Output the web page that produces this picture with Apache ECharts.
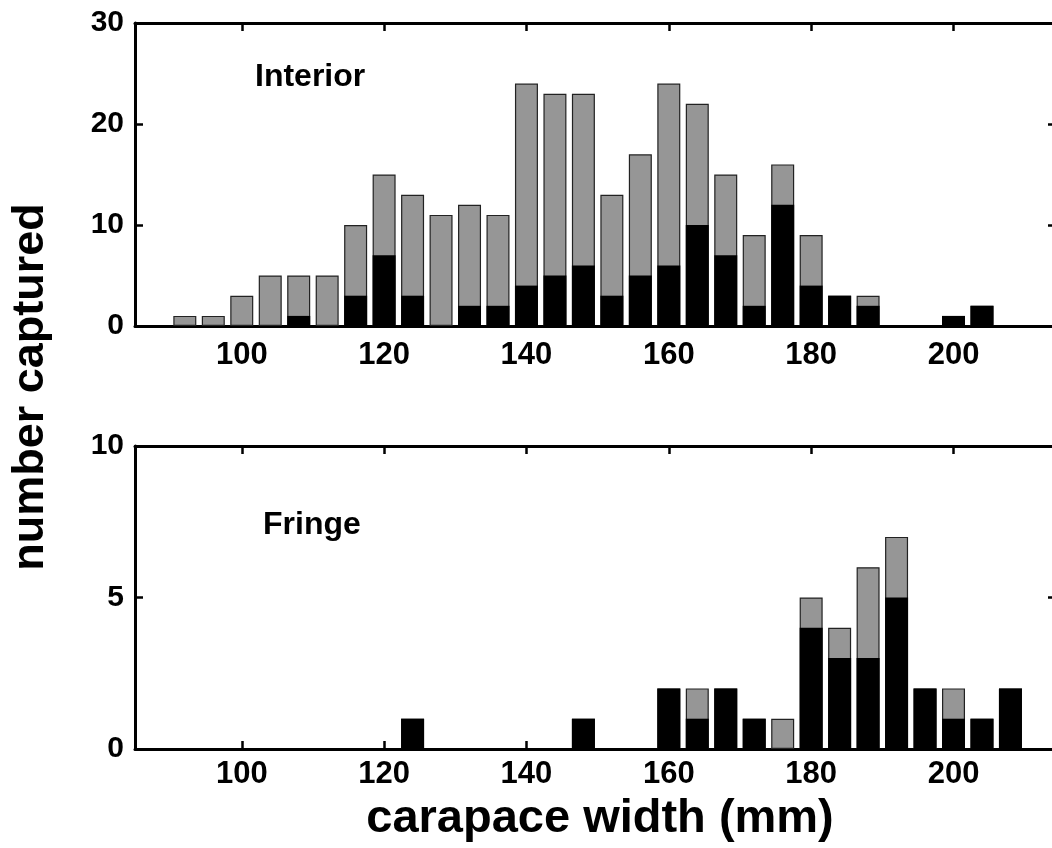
<!DOCTYPE html>
<html>
<head>
<meta charset="utf-8">
<script src="https://cdn.jsdelivr.net/npm/echarts@6/dist/echarts.min.js"></script>
<style>
  html, body { margin: 0; padding: 0; background: #ffffff; }
  #chart { width: 1052px; height: 848px; }
</style>
</head>
<body>
<div id="chart"></div>
<script>
// ---- data ----
const binCenters = [92, 96, 100, 104, 108, 112, 116, 120, 124, 128, 132, 136, 140, 144, 148,
                    152, 156, 160, 164, 168, 172, 176, 180, 184, 188, 192, 196, 200, 204, 208];
const interiorTotal = [1, 1, 3, 5, 5, 5, 10, 15, 13, 11, 12, 11, 24, 23, 23,
                       13, 17, 24, 22, 15, 9, 16, 9, 3, 3, 0, 0, 1, 2, 0];
const interiorBlack = [0, 0, 0, 0, 1, 0, 3, 7, 3, 0, 2, 2, 4, 5, 6,
                       3, 5, 6, 10, 7, 2, 12, 4, 3, 2, 0, 0, 1, 2, 0];
const fringeTotal   = [0, 0, 0, 0, 0, 0, 0, 0, 1, 0, 0, 0, 0, 0, 1,
                       0, 0, 2, 2, 2, 1, 1, 5, 4, 6, 7, 2, 2, 1, 2];
const fringeBlack   = [0, 0, 0, 0, 0, 0, 0, 0, 1, 0, 0, 0, 0, 0, 1,
                       0, 0, 2, 1, 2, 1, 0, 4, 3, 3, 5, 2, 1, 1, 2];
const xTickValues = [100, 120, 140, 160, 180, 200];
const panelLabels = ['Interior', 'Fringe'];
const xTitle = 'carapace width (mm)';
const yTitle = 'number captured';

// ---- helpers ----
const FONT = '"Liberation Sans", Arial, Helvetica, sans-serif';
const X_MIN = 85, X_MAX = 214.4;
const pairs = (vals) => binCenters.map((c, i) => [c, vals[i] > 0 ? vals[i] : null]).filter(p => p[1] !== null);

function xAxisPair(gridIndex, labelMargin) {
  const common = {
    type: 'value', gridIndex, min: X_MIN, max: X_MAX,
    splitLine: { show: false },
    axisLine: { show: true, onZero: false, lineStyle: { color: '#000', width: 3 } },
    axisTick: { show: true, inside: true, length: 8, customValues: xTickValues,
                lineStyle: { color: '#000', width: 2.5 } }
  };
  return [
    Object.assign({}, common, {
      position: 'bottom',
      axisLabel: { show: true, customValues: xTickValues, margin: labelMargin,
                   fontFamily: FONT, fontWeight: 'bold', fontSize: 31, color: '#000' }
    }),
    Object.assign({}, common, { position: 'top', axisLabel: { show: false } })
  ];
}
function yAxisPair(gridIndex, max, interval) {
  const common = {
    type: 'value', gridIndex, min: 0, max, interval,
    splitLine: { show: false },
    axisLine: { show: true, onZero: false, lineStyle: { color: '#000', width: 3 } },
    axisTick: { show: true, inside: true, length: 8, lineStyle: { color: '#000', width: 2.5 } }
  };
  return [
    Object.assign({}, common, {
      position: 'left',
      axisLabel: { show: true, margin: 11, fontFamily: FONT, fontWeight: 'bold',
                   fontSize: 30, color: '#000' }
    }),
    Object.assign({}, common, { position: 'right', axisLabel: { show: false } })
  ];
}
function barSeries(xi, yi, totals, blacks) {
  return [
    { type: 'bar', xAxisIndex: xi, yAxisIndex: yi, data: pairs(totals), barWidth: 23,
      barGap: '-100%', silent: true,
      itemStyle: { color: '#969696', borderColor: '#222', borderWidth: 1.2 } },
    { type: 'bar', xAxisIndex: xi, yAxisIndex: yi, data: pairs(blacks), barWidth: 23,
      barGap: '-100%', silent: true,
      itemStyle: { color: '#000', borderWidth: 0 } }
  ];
}

const chart = echarts.init(document.getElementById('chart'), null, { renderer: 'canvas' });
chart.setOption({
  backgroundColor: '#ffffff',
  animation: false,
  grid: [
    { left: 135, top: 23, width: 921, height: 303, outerBoundsMode: 'none', containLabel: false },
    { left: 135, top: 446, width: 921, height: 303, outerBoundsMode: 'none', containLabel: false }
  ],
  xAxis: [...xAxisPair(0, 14), ...xAxisPair(1, 10)],
  yAxis: [...yAxisPair(0, 30, 10), ...yAxisPair(1, 10, 5)],
  series: [
    ...barSeries(0, 0, interiorTotal, interiorBlack),
    ...barSeries(2, 2, fringeTotal, fringeBlack)
  ],
  graphic: [
    { type: 'text', left: 255, top: 61, silent: true,
      style: { text: panelLabels[0], font: 'bold 32px ' + FONT, fill: '#000' } },
    { type: 'text', left: 263, top: 509, silent: true,
      style: { text: panelLabels[1], font: 'bold 32px ' + FONT, fill: '#000' } },
    { type: 'text', x: 600, y: 819, silent: true,
      style: { text: xTitle, font: 'bold 47px ' + FONT, fill: '#000',
               align: 'center', verticalAlign: 'middle' } },
    { type: 'text', x: 31, y: 387, rotation: Math.PI / 2, silent: true,
      style: { text: yTitle, font: 'bold 45px ' + FONT, fill: '#000',
               align: 'center', verticalAlign: 'middle' } }
  ]
});
</script>
</body>
</html>
